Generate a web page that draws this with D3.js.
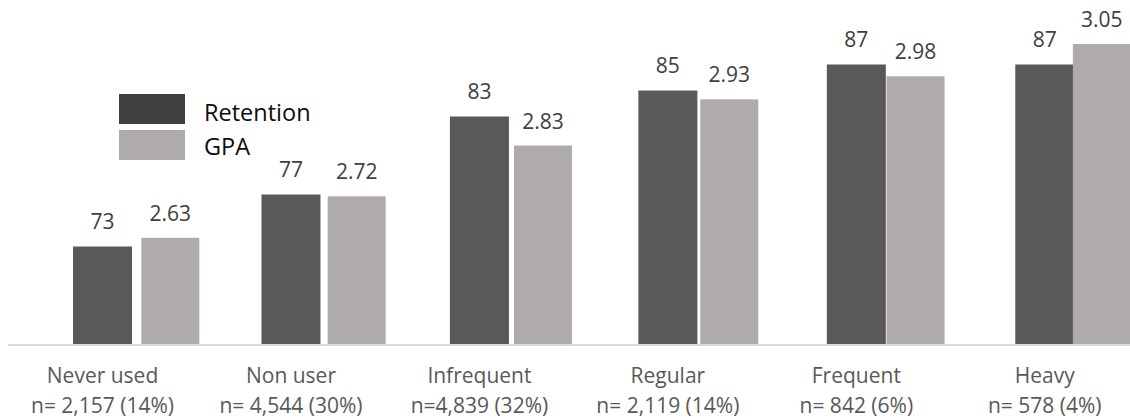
<!DOCTYPE html>
<html>
<head>
<meta charset="utf-8">
<script src="https://cdn.jsdelivr.net/npm/d3@7"></script>
<style>
  html, body { margin: 0; padding: 0; background: #fff; }
  svg { display: block; font-family: "Open Sans", "Noto Sans", sans-serif; }
</style>
</head>
<body>
<svg id="chart" width="1130" height="419"></svg>
<script>
// Usage groups and their sample sizes
const categories = ["Never used", "Non user", "Infrequent", "Regular", "Frequent", "Heavy"];
const sampleLabels = ["n= 2,157 (14%)", "n= 4,544 (30%)", "n=4,839 (32%)", "n= 2,119 (14%)", "n= 842 (6%)", "n= 578 (4%)"];

// Series values
const retention = [73, 77, 83, 85, 87, 87];
const gpa = [2.63, 2.72, 2.83, 2.93, 2.98, 3.05];

const seriesNames = ["Retention", "GPA"];

const colors = { retention: "#595959", gpa: "#AFABAB", legendRetention: "#404040", legendGpa: "#AFABAB" };

const svg = d3.select("#chart");
const baseY = 344;
const topY = 20;

// Each series sits on its own value axis (truncated baselines)
const yRet = d3.scaleLinear().domain([65.5, 65.5 + (baseY - topY) / 13.0]).range([baseY, topY]);
const yGpa = d3.scaleLinear().domain([2.4, 2.4 + (baseY - topY) / 461.6]).range([baseY, topY]);

// Retention bars are centred on the category; the GPA layer has slightly tighter spacing
const xRet = d3.scaleBand().domain(categories).range([8.3, 8.3 + 6 * 188.45]).padding(0);
const xGpa = d3.scaleBand().domain(categories).range([77.2, 77.2 + 6 * 186.3]).padding(0);
const retW = 59, gpaW = 58;

// Baseline
svg.append("line")
  .attr("x1", 8).attr("x2", 1130)
  .attr("y1", baseY + 1).attr("y2", baseY + 1)
  .attr("stroke", "#D9D9D9").attr("stroke-width", 2);

const retData = categories.map((c, i) => ({ c, v: retention[i] }));
const gpaData = categories.map((c, i) => ({ c, v: gpa[i] }));

svg.append("g").selectAll("rect").data(retData).join("rect")
  .attr("x", d => xRet(d.c) + xRet.bandwidth() / 2 - retW / 2)
  .attr("y", d => yRet(d.v))
  .attr("width", retW)
  .attr("height", d => baseY - yRet(d.v))
  .attr("fill", colors.retention);

svg.append("g").selectAll("rect").data(gpaData).join("rect")
  .attr("x", d => xGpa(d.c) + xGpa.bandwidth() / 2 - gpaW / 2)
  .attr("y", d => yGpa(d.v))
  .attr("width", gpaW)
  .attr("height", d => baseY - yGpa(d.v))
  .attr("fill", colors.gpa);

// Value labels
svg.append("g").selectAll("text").data(retData).join("text")
  .attr("x", d => xRet(d.c) + xRet.bandwidth() / 2)
  .attr("y", d => yRet(d.v) - 17.5)
  .attr("text-anchor", "middle")
  .attr("font-size", 21)
  .attr("fill", "#404040")
  .text(d => d3.format("d")(d.v));

svg.append("g").selectAll("text").data(gpaData).join("text")
  .attr("x", d => xGpa(d.c) + xGpa.bandwidth() / 2)
  .attr("y", d => yGpa(d.v) - 17)
  .attr("text-anchor", "middle")
  .attr("font-size", 21)
  .attr("fill", "#404040")
  .text(d => d3.format(".2f")(d.v));

// Category labels, two lines each
const catG = svg.append("g").selectAll("text").data(categories).join("text")
  .attr("text-anchor", "middle")
  .attr("font-size", 21)
  .attr("fill", "#595959");
catG.append("tspan")
  .attr("x", d => xRet(d) + xRet.bandwidth() / 2)
  .attr("y", 383)
  .text(d => d);
catG.append("tspan")
  .attr("x", d => xRet(d) + xRet.bandwidth() / 2)
  .attr("y", 413)
  .text((d, i) => sampleLabels[i]);

// Legend
const legend = svg.append("g");
const legendFill = [colors.legendRetention, colors.legendGpa];
seriesNames.forEach((name, i) => {
  legend.append("rect")
    .attr("x", 119).attr("y", 94 + i * 36)
    .attr("width", 66).attr("height", 30)
    .attr("fill", legendFill[i]);
  legend.append("text")
    .attr("x", 204).attr("y", 120.5 + i * 34)
    .attr("font-size", 23.5)
    .attr("fill", "#0D0D0D")
    .text(name);
});
</script>
</body>
</html>
